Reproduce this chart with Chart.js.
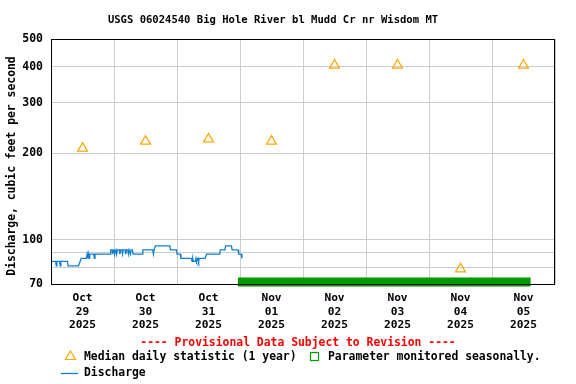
<!DOCTYPE html>
<html>
<head>
<meta charset="utf-8">
<script src="https://cdn.jsdelivr.net/npm/chart.js@4/dist/chart.umd.min.js"></script>
<style>
  html, body { margin: 0; padding: 0; background: #fff; }
  #wrap { width: 576px; height: 384px; }
</style>
</head>
<body>
<div id="wrap"><canvas id="myChart" width="576" height="384"></canvas></div>
<script>
// hours since Oct 29 2025 00:00
var dayLabels = [['Oct','29','2025'],['Oct','30','2025'],['Oct','31','2025'],['Nov','01','2025'],
                 ['Nov','02','2025'],['Nov','03','2025'],['Nov','04','2025'],['Nov','05','2025']]
var yTicks = [70, 80, 90, 100, 200, 300, 400, 500]
var yTickLabels = ['70', '', '', '100', '200', '300', '400', '500']

var dischargeHours = [0,1.75,2,2.25,3.25,3.5,3.75,6.25,6.5,10.5,11.5,13.5,13.75,14,14.25,14.5,14.75,16.25,16.5,16.75,
  22.5,22.75,23.25,23.5,23.75,24,24.25,24.75,25,25.25,26,26.25,26.5,27,27.25,27.5,28.25,28.5,28.75,29.25,29.5,29.75,
  30,30.25,30.5,31,31.25,31.5,34.75,35,38.75,39,39.25,39.75,45.25,45.5,47.75,48,49.25,49.5,53.5,53.75,54,54.25,55,
  55.25,55.5,56,56.25,56.5,58.75,59.25,64.25,64.5,66.25,66.5,68.75,69,71.25,71.5,72.5,72.75]
var dischargeCfs = [84,84,81,84,84,81,84,84,81,81,86,86,89,86,89,86,89,89,86,89,
  89,92,92,89,92,92,89,92,89,92,92,89,92,92,89,92,92,89,92,92,89,92,
  92,89,92,92,89,89,89,92,92,89,92,95,95,92,92,89,89,86,86,84,86,84,84,
  86,84,86,84,86,86,89,89,92,92,95,95,92,92,89,89,86]

var medianHours = [12, 36, 60, 84, 108, 132, 156, 180]
var medianCfs = [208, 220, 224, 220, 405, 405, 79, 405]

var seasonalHours = [71.2, 182.7]

var FONT = 'DejaVu Sans Mono'

var textPlugin = {
  id: 'texts',
  afterDatasetsDraw: function(chart) {
    var ctx = chart.ctx, a = chart.chartArea
    ctx.save()
    // frame
    ctx.strokeStyle = '#000'
    ctx.lineWidth = 1
    ctx.strokeRect(Math.round(a.left) + 0.5, Math.round(a.top) + 0.5,
                   Math.round(a.right - a.left) - 1, Math.round(a.bottom - a.top))
    ctx.restore()
  },
  afterDraw: function(chart) {
    var ctx = chart.ctx
    ctx.save()
    ctx.textBaseline = 'middle'
    ctx.fillStyle = '#000'
    ctx.font = 'bold 10.55px "' + FONT + '"'
    ctx.textAlign = 'center'
    ctx.fillText('USGS 06024540 Big Hole River bl Mudd Cr nr Wisdom MT', 273, 20)

    ctx.font = 'bold 11.4px "' + FONT + '"'
    ctx.save()
    ctx.translate(12, 166)
    ctx.rotate(-Math.PI / 2)
    ctx.fillText('Discharge, cubic feet per second', 0, 0)
    ctx.restore()

    ctx.fillStyle = '#ff0000'
    ctx.fillText('---- Provisional Data Subject to Revision ----', 298, 343)

    ctx.textAlign = 'left'
    ctx.fillStyle = '#000'
    ctx.fillText('Median daily statistic (1 year)', 84, 357)
    ctx.fillText('Parameter monitored seasonally.', 328, 357)
    ctx.fillText('Discharge', 84, 373)

    // legend marks
    ctx.strokeStyle = '#ffa500'
    ctx.lineWidth = 1.2
    ctx.beginPath()
    ctx.moveTo(70.5, 351); ctx.lineTo(75.5, 359.5); ctx.lineTo(65.5, 359.5); ctx.closePath()
    ctx.stroke()
    ctx.strokeStyle = '#009900'
    ctx.lineWidth = 1.2
    ctx.strokeRect(310.5, 352.5, 8, 8)
    ctx.strokeStyle = '#1080d0'
    ctx.lineWidth = 1.3
    ctx.beginPath()
    ctx.moveTo(61, 373.5); ctx.lineTo(78, 373.5)
    ctx.stroke()
    ctx.restore()
  }
}

var myChart = document.getElementById('myChart').getContext('2d')
var chart = new Chart(myChart, {
  type: 'line',
  data: {
    datasets: [
      {
        label: 'Parameter monitored seasonally.',
        data: seasonalHours.map(function(h) { return {x: h, y: 71.2} }),
        borderColor: '#009900',
        borderWidth: 9,
        borderCapStyle: 'butt',
        pointRadius: 0,
        clip: false,
        order: 3
      },
      {
        label: 'Discharge',
        data: dischargeHours.map(function(h, i) { return {x: h, y: dischargeCfs[i]} }),
        borderColor: '#1080d0',
        borderWidth: 1.3,
        pointRadius: 0,
        tension: 0,
        order: 2
      },
      {
        label: 'Median daily statistic (1 year)',
        data: medianHours.map(function(h, i) { return {x: h, y: medianCfs[i]} }),
        showLine: false,
        pointStyle: 'triangle',
        pointRadius: 5.7,
        borderColor: '#ffa500',
        backgroundColor: 'rgba(0,0,0,0)',
        borderWidth: 1.2,
        order: 1
      }
    ]
  },
  options: {
    responsive: false,
    animation: false,
    layout: { padding: { left: 0, right: 21, top: 39, bottom: 0 } },
    plugins: { legend: { display: false }, tooltip: { enabled: false }, title: { display: false } },
    scales: {
      x: {
        type: 'linear',
        min: 0,
        max: 192,
        afterFit: function(s) { s.height = 100 },
        afterBuildTicks: function(s) {
          var t = []
          for (var h = 0; h <= 192; h += 12) t.push({value: h})
          s.ticks = t
        },
        grid: {
          drawTicks: false,
          color: function(c) { return c.tick && c.tick.value % 24 === 0 ? '#cccccc' : 'rgba(0,0,0,0)' }
        },
        border: { display: false },
        ticks: {
          autoSkip: false,
          maxRotation: 0,
          padding: 8,
          color: '#000',
          font: { family: FONT, size: 11.2, weight: 'bold', lineHeight: 1.17 },
          callback: function(v) {
            if (v % 24 === 12) return dayLabels[(v - 12) / 24]
            return ''
          }
        }
      },
      y: {
        type: 'logarithmic',
        min: 70,
        max: 500,
        afterFit: function(s) { s.width = 51 },
        afterBuildTicks: function(s) {
          s.ticks = yTicks.map(function(v) { return {value: v} })
        },
        grid: { drawTicks: false, color: '#cccccc' },
        border: { display: false },
        ticks: {
          padding: 8,
          color: '#000',
          font: { family: FONT, size: 11.5, weight: 'bold' },
          callback: function(v) {
            var i = yTicks.indexOf(v)
            return i >= 0 ? yTickLabels[i] : ''
          }
        }
      }
    }
  },
  plugins: [textPlugin]
})
</script>
</body>
</html>
